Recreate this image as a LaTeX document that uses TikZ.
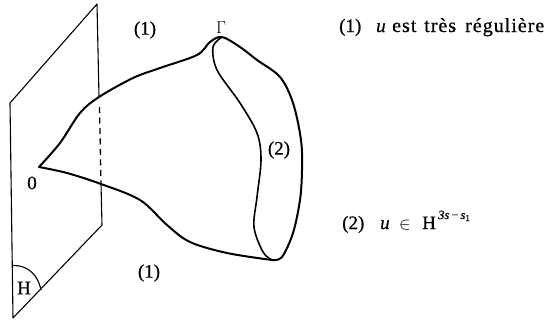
\documentclass[tikz,border=0pt]{standalone}
\usepackage{fontspec}
\setmainfont{Liberation Serif}[RawFeature={embolden=0.6}]
\tikzset{
  thin line/.style={line width=1.1pt,line join=round},
  thick curve/.style={line width=2pt,line cap=round,line join=round},
  lbl/.style={inner sep=0pt,font=\fontsize{19}{22}\selectfont},
  cap word/.style={inner sep=0pt,anchor=base west,font=\fontsize{20}{22}\selectfont\addfontfeature{LetterSpace=5}},
}
\begin{document}
\begin{tikzpicture}[x=1pt,y=-1pt]
\useasboundingbox (0,0) rectangle (545,324);
% plane
\draw[thin line] (99,97) -- (97,4) -- (10,103) -- (13,318) -- (102,225) -- (101,184);
\draw[thin line,line width=1.3pt,dash pattern=on 6pt off 4.5pt] (99.5,107) -- (101,184);
\draw[thin line] (13,265.5) .. controls (28,265) and (38,275) .. (41,290);
% surface
\draw[thick curve] plot[smooth,tension=0.55] coordinates {(39,167) (60,143) (80,113) (99,97) (133,78) (160,68) (197,55) (210,42) (222,37) (240,47) (257,60) (280,77) (293,103) (301,140) (302,170) (300,200) (293,233) (282,257) (272,260)};
\draw[thick curve] plot[smooth,tension=0.55] coordinates {(39,167) (67,173) (101,184) (140,200) (167,225) (190,242) (227,253) (272,260)};
\draw[line width=1.6pt,line cap=round] plot[smooth,tension=0.55] coordinates {(222,37) (213,47) (217,70) (240,103) (257,133) (261,160) (257,197) (254,227) (263,252) (272,260)};
% labels
\node[lbl] (a) at (145,30) {(1)};
\node[lbl] (b) at (149,273) {(1)};
\node[lbl] (c) at (279,150) {(2)};
\node[lbl,font=\fontsize{17}{20}\selectfont] (g) at (221,28) {$\Gamma$};
\node[lbl] (o) at (32,183) {0};
\node[lbl] (h) at (24,288) {H};
% caption line 1
\node[lbl,anchor=base west] (t1a) at (339,32) {(1)};
\node[lbl,anchor=base west] (t1b) at (376,32) {\textit{u}};
\node[cap word] (t1c) at (392,32) {est};
\node[cap word] (t1d) at (424,32) {très};
\node[cap word] (t1e) at (465,32) {régulière};
% caption line 2
\node[lbl,anchor=base west] (t2a) at (342,229) {(2)};
\node[lbl,anchor=base west] (t2b) at (380,229) {\textit{u}};
\node[lbl,anchor=base west] (t2c) at (399,229) {$\in$};
\node[lbl,anchor=base west] (t2d) at (422,229) {H};
\node[lbl,anchor=base west,font=\fontsize{12.5}{14}\selectfont] (t2e) at (438,219) {\textit{3s}\,−\,\textit{s}\raisebox{-2pt}{\fontsize{9}{10}\selectfont 1}};
\end{tikzpicture}
\end{document}
